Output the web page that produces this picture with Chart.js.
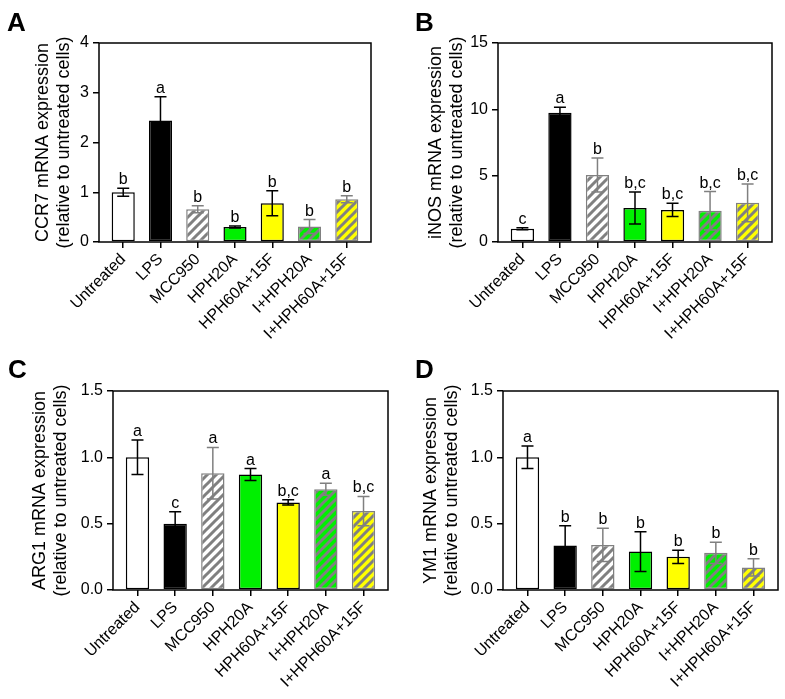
<!DOCTYPE html>
<html>
<head>
<meta charset="utf-8">
<script src="https://cdn.jsdelivr.net/npm/chart.js@4.4.0/dist/chart.umd.min.js"></script>
<style>
  body { margin: 0; background: #fff; }
  #wrap { position: relative; width: 785px; height: 699px; }
  canvas { position: absolute; }
</style>
</head>
<body>
<div id="wrap">
  <canvas id="pA" width="390" height="340" style="left:0;top:0"></canvas>
  <canvas id="pB" width="395" height="340" style="left:390px;top:0"></canvas>
  <canvas id="pC" width="390" height="359" style="left:0;top:340px"></canvas>
  <canvas id="pD" width="395" height="359" style="left:390px;top:340px"></canvas>
</div>
<script>
// groups shown on every panel
const groups = ["Untreated", "LPS", "MCC950", "HPH20A", "HPH60A+15F", "I+HPH20A", "I+HPH60A+15F"];

// A - CCR7
const ccr7Mean = [1.0, 2.44, 0.66, 0.30, 0.78, 0.31, 0.86];
const ccr7Err = [0.08, 0.48, 0.07, 0.02, 0.25, 0.14, 0.07];
const ccr7Letters = ["b", "a", "b", "b", "b", "b", "b"];

// B - iNOS
const inosMean = [1.0, 9.75, 5.05, 2.56, 2.42, 2.35, 2.95];
const inosErr = [0.07, 0.4, 1.28, 1.2, 0.5, 1.45, 1.42];
const inosLetters = ["c", "a", "b", "b,c", "b,c", "b,c", "b,c"];

// C - ARG1
const arg1Mean = [1.0, 0.50, 0.88, 0.87, 0.66, 0.76, 0.595];
const arg1Err = [0.13, 0.09, 0.195, 0.045, 0.02, 0.045, 0.11];
const arg1Letters = ["a", "c", "a", "a", "b,c", "a", "b,c"];

// D - YM1
const ym1Mean = [1.0, 0.335, 0.34, 0.29, 0.25, 0.28, 0.17];
const ym1Err = [0.085, 0.15, 0.125, 0.15, 0.05, 0.08, 0.065];
const ym1Letters = ["a", "b", "b", "b", "b", "b", "b"];

const FONT = "'Liberation Sans', Arial, sans-serif";
Chart.defaults.font.family = FONT;
Chart.defaults.color = "#000";

const GRAY = "#808080";
const GREEN = "#00f000";
const YELLOW = "#ffff00";
const striped = [false, false, true, false, false, true, true];

function stripes(bg) {
  const s = 9;
  const c = document.createElement("canvas");
  c.width = s; c.height = s;
  const g = c.getContext("2d");
  g.fillStyle = bg;
  g.fillRect(0, 0, s, s);
  g.strokeStyle = GRAY;
  g.lineWidth = 3;
  g.beginPath();
  g.moveTo(0, s); g.lineTo(s, 0);
  g.moveTo(-s / 4, s / 4); g.lineTo(s / 4, -s / 4);
  g.moveTo(3 * s / 4, 5 * s / 4); g.lineTo(5 * s / 4, 3 * s / 4);
  g.stroke();
  return g.createPattern(c, "repeat");
}

const fills = ["#ffffff", "#000000", stripes("#ffffff"), GREEN, YELLOW, stripes(GREEN), stripes(YELLOW)];
const borders = ["#000", "#000", GRAY, "#000", "#000", GRAY, GRAY];

// error bars, significance letters, frame and panel letter
const extras = {
  id: "extras",
  afterDatasetsDraw(chart, args, o) {
    const ctx = chart.ctx;
    const y = chart.scales.y;
    const bars = chart.getDatasetMeta(0).data;
    ctx.save();
    bars.forEach((bar, i) => {
      const top = y.getPixelForValue(o.mean[i] + o.err[i]);
      const bot = y.getPixelForValue(Math.max(0, o.mean[i] - o.err[i]));
      ctx.strokeStyle = striped[i] ? GRAY : "#000";
      ctx.lineWidth = 1.5;
      ctx.beginPath();
      ctx.moveTo(bar.x, top); ctx.lineTo(bar.x, bot);
      ctx.moveTo(bar.x - 6, top); ctx.lineTo(bar.x + 6, top);
      ctx.moveTo(bar.x - 6, bot); ctx.lineTo(bar.x + 6, bot);
      ctx.stroke();
      ctx.fillStyle = "#000";
      ctx.font = "16px " + FONT;
      ctx.textAlign = "center";
      ctx.textBaseline = "alphabetic";
      ctx.fillText(o.letters[i], bar.x, top - 4);
    });
    const a = chart.chartArea;
    ctx.strokeStyle = "#000";
    ctx.lineWidth = 1.5;
    ctx.strokeRect(a.left, a.top, a.right - a.left, a.bottom - a.top);
    ctx.font = "bold 26px " + FONT;
    ctx.textAlign = "left";
    ctx.fillText(o.panel, o.px, o.py);
    ctx.restore();
  }
};

function panel(id, p) {
  const axisGrid = { display: true, offset: false, drawOnChartArea: false, drawTicks: true, tickLength: 6, color: "#000", lineWidth: 1.5 };
  new Chart(document.getElementById(id), {
    type: "bar",
    data: {
      datasets: [{
        data: p.mean.map((v, i) => ({ x: i, y: v })),
        backgroundColor: fills,
        borderColor: borders,
        borderWidth: 1.5,
        borderSkipped: false,
        barPercentage: 0.62,
        categoryPercentage: 1
      }]
    },
    options: {
      responsive: false,
      animation: false,
      events: [],
      layout: { padding: p.pad },
      plugins: {
        legend: { display: false },
        tooltip: { enabled: false },
        extras: { mean: p.mean, err: p.err, letters: p.letters, panel: p.panel, px: p.px, py: p.py }
      },
      scales: {
        x: {
          type: "linear",
          offset: false,
          min: -0.65,
          max: 6.65,
          // one tick per group
          afterBuildTicks: s => { s.ticks = groups.map((g, i) => ({ value: i })); },
          afterFit: s => { s.height = p.xh; },
          ticks: { autoSkip: false, maxRotation: 45, minRotation: 45, font: { size: 16 }, padding: 2, callback: v => groups[v] },
          grid: axisGrid,
          border: { display: false }
        },
        y: {
          min: 0,
          max: p.max,
          afterFit: s => { s.width = p.yw; },
          ticks: { stepSize: p.step, font: { size: 16 }, padding: 4, callback: p.fmt },
          grid: axisGrid,
          border: { display: false },
          title: { display: true, text: p.title, font: { size: 18 }, padding: 0 }
        }
      }
    },
    plugins: [extras]
  });
}

panel("pA", {
  mean: ccr7Mean, err: ccr7Err, letters: ccr7Letters, panel: "A", px: 7, py: 31,
  max: 4, step: 1, fmt: v => v, title: ["CCR7 mRNA expression", "(relative to untreated cells)"],
  pad: { left: 32, top: 43, right: 19, bottom: 0 }, yw: 67, xh: 98
});
panel("pB", {
  mean: inosMean, err: inosErr, letters: inosLetters, panel: "B", px: 25, py: 31,
  max: 15, step: 5, fmt: v => v, title: ["iNOS mRNA expression", "(relative to untreated cells)"],
  pad: { left: 35, top: 43, right: 13, bottom: 0 }, yw: 73, xh: 98
});
panel("pC", {
  mean: arg1Mean, err: arg1Err, letters: arg1Letters, panel: "C", px: 8, py: 38,
  max: 1.5, step: 0.5, fmt: v => v.toFixed(1), title: ["ARG1 mRNA expression", "(relative to untreated cells)"],
  pad: { left: 29, top: 51, right: 2, bottom: 0 }, yw: 84, xh: 109
});
panel("pD", {
  mean: ym1Mean, err: ym1Err, letters: ym1Letters, panel: "D", px: 25, py: 38,
  max: 1.5, step: 0.5, fmt: v => v.toFixed(1), title: ["YM1 mRNA expression", "(relative to untreated cells)"],
  pad: { left: 30, top: 51, right: 7, bottom: 0 }, yw: 83, xh: 109
});
</script>
</body>
</html>
